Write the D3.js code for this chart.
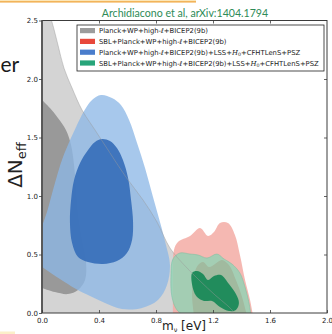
<!DOCTYPE html>
<html><head><meta charset="utf-8">
<script src="https://cdn.jsdelivr.net/npm/d3@7"></script>
<style>body{margin:0;background:#fff;overflow:hidden}</style>
</head><body>
<svg id="c" width="332" height="334"></svg>
<script>
// ---- data ----
const xTicks = [0.0, 0.4, 0.8, 1.2, 1.6, 2.0];
const yTicks = [0.0, 0.5, 1.0, 1.5, 2.0, 2.5];
const legendLabels = [
  "Planck+WP+high-ℓ+BICEP2(9b)",
  "SBL+Planck+WP+high-ℓ+BICEP2(9b)",
  "Planck+WP+high-ℓ+BICEP2(9b)+LSS+H_0+CFHTLenS+PSZ",
  "SBL+Planck+WP+high-ℓ+BICEP2(9b)+LSS+H_0+CFHTLenS+PSZ"
];
const titleText = "Archidiacono et al, arXiv:1404.1794";
// contour boundaries (m_nu [eV], ΔN_eff)
const grey95 = [[0.028,2.632],[0.070,2.487],[0.112,2.291],[0.154,2.094],[0.211,1.923],[0.281,1.735],[0.372,1.564],[0.477,1.368],[0.589,1.162],[0.709,0.966],[0.807,0.778],[0.898,0.556],[1.004,0.402],[1.109,0.274],[1.214,0.154],[1.305,0.060],[1.375,-0.026]];
const grey95Close = [[-0.05,-0.05],[-0.05,2.7]];
const grey68 = [[0,1.821],[0.056,1.752],[0.112,1.667],[0.168,1.564],[0.204,1.436],[0.225,1.265],[0.239,1.051],[0.253,0.838],[0.281,0.624],[0.309,0.436],[0.302,0.282],[0.253,0.197],[0.182,0.162],[0.091,0.179],[0,0.214]];
const grey68Close = [[-0.05,0.214],[-0.05,1.821]];
const blue95 = [[0.414,1.863],[0.491,1.838],[0.554,1.778],[0.611,1.650],[0.667,1.453],[0.723,1.239],[0.779,0.991],[0.828,0.778],[0.870,0.581],[0.898,0.410],[0.877,0.239],[0.814,0.111],[0.702,0.043],[0.561,0.034],[0.442,0.085],[0.337,0.145],[0.239,0.205],[0.126,0.291],[0.042,0.359],[-0.028,0.436],[-0.028,0.624],[0.035,0.863],[0.091,1.111],[0.140,1.308],[0.182,1.436],[0.239,1.590],[0.295,1.726],[0.351,1.821]];
const blue68 = [[0.421,1.487],[0.477,1.470],[0.526,1.410],[0.568,1.308],[0.604,1.154],[0.625,0.966],[0.639,0.778],[0.632,0.624],[0.596,0.513],[0.526,0.444],[0.428,0.419],[0.323,0.436],[0.253,0.479],[0.211,0.598],[0.196,0.778],[0.204,0.966],[0.225,1.137],[0.267,1.282],[0.323,1.393],[0.372,1.462]];
const red95 = [[0.919,-0.026],[0.919,0.282],[0.926,0.538],[0.954,0.607],[1.039,0.658],[1.109,0.726],[1.165,0.658],[1.207,0.692],[1.249,0.769],[1.305,0.769],[1.354,0.667],[1.389,0.496],[1.425,0.282],[1.460,0.111],[1.481,-0.026]];
const red68 = [[1.067,-0.026],[1.053,0.154],[1.067,0.325],[1.095,0.410],[1.130,0.436],[1.172,0.393],[1.214,0.419],[1.263,0.453],[1.312,0.410],[1.361,0.282],[1.404,0.137],[1.439,-0.026]];
const green95 = [[1.004,-0.026],[0.947,0.026],[0.912,0.137],[0.905,0.325],[0.919,0.462],[0.968,0.513],[1.039,0.504],[1.095,0.496],[1.158,0.470],[1.228,0.504],[1.277,0.462],[1.333,0.419],[1.389,0.342],[1.425,0.222],[1.453,0.085],[1.467,-0.026]];
const green68 = [[1.053,0.342],[1.088,0.359],[1.130,0.333],[1.165,0.282],[1.207,0.316],[1.256,0.325],[1.312,0.248],[1.361,0.162],[1.382,0.085],[1.361,0.026],[1.312,0.017],[1.249,0.051],[1.193,0.103],[1.137,0.103],[1.088,0.137],[1.060,0.205]];

// ---- layout ----
const svg = d3.select("#c");
const L = 42, R = 327, T = 20.5, B = 313;
const x = d3.scaleLinear().domain([0, 2]).range([L, R]);
const y = d3.scaleLinear().domain([0, 2.5]).range([B, T]);

// slide decorations
svg.append("rect").attr("x",0).attr("y",0).attr("width",196).attr("height",1).attr("fill","#fbe6b8");
svg.append("rect").attr("x",0).attr("y",1).attr("width",196).attr("height",1.6).attr("fill","#f2b45a");
svg.append("rect").attr("x",0).attr("y",331.5).attr("width",15).attr("height",3).attr("fill","#fcefc9");
svg.append("text").attr("x",0.5).attr("y",72).attr("text-anchor","start")
  .attr("font-family","Lato, 'DejaVu Sans', sans-serif").attr("font-size",21).attr("fill","#1a1a1a").text("er");

// title
svg.append("text").attr("x",185).attr("y",16.5).attr("text-anchor","middle")
  .attr("font-family","Lato, 'Open Sans', sans-serif").attr("font-size",10.6).attr("fill","#2e8b57").text(titleText);

svg.append("clipPath").attr("id","clip").append("rect")
  .attr("x",L).attr("y",T).attr("width",R-L).attr("height",B-T);
const g = svg.append("g").attr("clip-path","url(#clip)");

const openLine = d3.line().x(d=>x(d[0])).y(d=>y(d[1])).curve(d3.curveCatmullRom.alpha(0.5));
const closedLine = d3.line().x(d=>x(d[0])).y(d=>y(d[1])).curve(d3.curveCatmullRomClosed.alpha(0.5));
function regionPath(boundary, closePts){
  return openLine(boundary) + closePts.map(c=>"L"+x(c[0])+","+y(c[1])).join("") + "Z";
}

g.append("path").attr("d",regionPath(grey95,grey95Close)).attr("fill","#d4d4d4");
g.append("path").attr("d",regionPath(grey68,grey68Close)).attr("fill","#999999");
g.append("path").attr("d",closedLine(blue95)).attr("fill","rgb(140,184,230)").attr("fill-opacity",0.77);
g.append("path").attr("d",closedLine(blue68)).attr("fill","#3a71bb").attr("fill-opacity",0.95);
g.append("path").attr("d",regionPath(red95,[])).attr("fill","rgb(243,171,164)").attr("fill-opacity",0.85);
g.append("path").attr("d",regionPath(red68,[])).attr("fill","rgb(226,72,60)");
g.append("path").attr("d",regionPath(green95,[])).attr("fill","rgb(146,211,181)").attr("fill-opacity",0.82)
  .attr("stroke","rgb(120,190,160)").attr("stroke-width",0.5);
g.append("path").attr("d",closedLine(green68)).attr("fill","rgb(28,138,90)").attr("fill-opacity",0.96);
// grey contour edge visible through overlays
g.append("path").attr("d",openLine(grey95)).attr("fill","none").attr("stroke","#9a9a9a").attr("stroke-width",0.6).attr("stroke-opacity",0.75);

// frame
const frameCol = "#3c3c3c";
svg.append("rect").attr("x",L).attr("y",T).attr("width",R-L).attr("height",B-T)
  .attr("fill","none").attr("stroke",frameCol).attr("stroke-width",1);
svg.append("line").attr("x1",L).attr("x2",L).attr("y1",T).attr("y2",B).attr("stroke","#555").attr("stroke-width",1.8);

// axes
const tickFont = "'DejaVu Sans', sans-serif";
const xAxis = d3.axisBottom(x).tickValues(xTicks).tickFormat(d3.format(".1f")).tickSize(-3).tickPadding(5);
const gx = svg.append("g").attr("transform",`translate(0,${B})`).call(xAxis);
const yAxis = d3.axisLeft(y).tickValues(yTicks).tickFormat(d3.format(".1f")).tickSize(3).tickPadding(1);
const gy = svg.append("g").attr("transform",`translate(${L},0)`).call(yAxis);
[gx,gy].forEach(a=>{
  a.select(".domain").remove();
  a.selectAll("line").attr("stroke",frameCol).attr("stroke-width",0.8);
  a.selectAll("text").attr("font-family",tickFont).attr("font-size",7).attr("fill","#222");
});
const gr = svg.append("g").attr("transform",`translate(${R},0)`).call(d3.axisRight(y).tickValues(yTicks.slice(1,-1)).tickSize(-3).tickFormat(""));
const gt = svg.append("g").attr("transform",`translate(0,${T})`).call(d3.axisTop(x).tickValues(xTicks.slice(1,-1)).tickSize(-3).tickFormat(""));
[gr,gt].forEach(a=>{ a.select(".domain").remove(); a.selectAll("line").attr("stroke",frameCol).attr("stroke-width",0.8); });

// axis labels
const xl = svg.append("text").attr("x",184).attr("y",330).attr("text-anchor","middle")
  .attr("font-family",tickFont).attr("font-size",12).attr("fill","#222");
xl.append("tspan").text("m");
xl.append("tspan").attr("font-size",6.5).attr("dy",2).text("ν");
xl.append("tspan").attr("dy",-2).text(" [eV]");
const yl = svg.append("text").attr("transform","translate(22,165) rotate(-90)").attr("text-anchor","middle")
  .attr("font-family",tickFont).attr("font-size",20).attr("fill","#222");
yl.append("tspan").text("ΔN");
yl.append("tspan").attr("font-size",13).attr("dy",4).text("eff");

// legend
const legendColors = ["#9c9c9c","#e8483b","#4a7dcc","#27a57a"];
const lg = svg.append("g");
lg.append("rect").attr("x",77).attr("y",25).attr("width",247).attr("height",46)
  .attr("fill","#fff").attr("stroke","#222").attr("stroke-width",0.8);
const rowY = d3.scalePoint().domain(d3.range(4)).range([30.6, 63]);
const texts = [];
legendLabels.forEach((lab,i)=>{
  lg.append("rect").attr("x",80).attr("y",rowY(i)-2.6).attr("width",15).attr("height",5.2).attr("fill",legendColors[i]);
  const t = lg.append("text").attr("x",99).attr("y",rowY(i)+2.5)
    .attr("font-family",tickFont).attr("font-size",10).attr("fill","#222");
  const parts = lab.split("H_0");
  t.append("tspan").text(parts[0]);
  if(parts.length>1){
    t.append("tspan").attr("font-style","italic").attr("font-family","'DejaVu Serif', serif").text("H");
    t.append("tspan").attr("font-size","0.7em").attr("dy",1.5).text("0");
    t.append("tspan").attr("dy",-1.5).text(parts[1]);
  }
  texts.push(t);
});
const len = texts[3].node().getComputedTextLength();
const fs = 10*220/len;
texts.forEach(t=>t.attr("font-size",fs));
</script>
</body></html>
